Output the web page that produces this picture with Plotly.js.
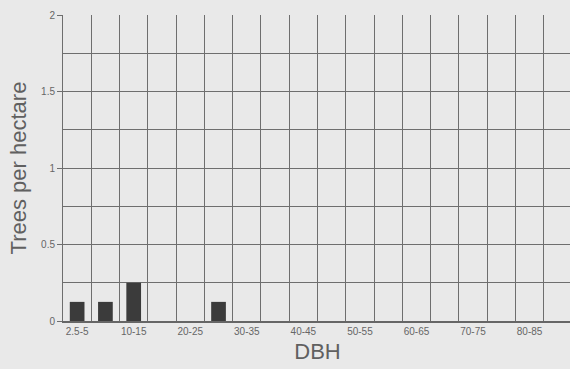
<!DOCTYPE html>
<html>
<head>
<meta charset="utf-8">
<script src="https://cdn.plot.ly/plotly-3.0.1.min.js"></script>
<style>
html,body{margin:0;padding:0;overflow:hidden;background:#e9e9e9;}
#chart{width:572px;height:369px;}
</style>
</head>
<body>
<div id="chart"></div>
<script>
// DBH classes (cm)
var categories = ["2.5-5","5-10","10-15","15-20","20-25","25-30","30-35","35-40","40-45","45-50","50-55","55-60","60-65","65-70","70-75","75-80","80-85","85-90"];
// Trees per hectare
var treesPerHectare = [0.125,0.125,0.25,0,0,0.125,0,0,0,0,0,0,0,0,0,0,0,0];
// Only every other class is labelled on the axis
var tickLabels = ["2.5-5","","10-15","","20-25","","30-35","","40-45","","50-55","","60-65","","70-75","","80-85",""];
var yTickVals = [0,0.5,1,1.5,2];
var yTickText = ["0","0.5","1","1.5","2"];

var gridCol = "#6e6e6e";
var trace = {
  type: "bar",
  x: categories,
  y: treesPerHectare,
  width: 0.52,
  marker: {color: "#3b3b3b", line: {width: 0}},
  hoverinfo: "x+y"
};

var layout = {
  width: 572,
  height: 369,
  margin: {l: 63, r: 0, t: 15, b: 48, pad: 0},
  paper_bgcolor: "#e9e9e9",
  plot_bgcolor: "#e9e9e9",
  font: {family: "Liberation Sans, Arial, sans-serif", color: "#5a5a5a"},
  showlegend: false,
  bargap: 0.48,
  xaxis: {
    type: "category",
    tickvals: categories,
    ticktext: tickLabels,
    tickson: "boundaries",
    tickangle: 0,
    ticks: "outside",
    ticklen: 5,
    tickcolor: "rgba(0,0,0,0)",
    tickfont: {size: 10, color: "#666"},
    showgrid: true,
    gridcolor: gridCol,
    gridwidth: 1,
    showline: true,
    linecolor: "#666",
    linewidth: 1.5,
    zeroline: false,
    range: [-0.5, 17.5],
    title: {text: "DBH", font: {size: 22, color: "#606060"}, standoff: 8},
    automargin: false
  },
  yaxis: {
    range: [0, 2],
    tickvals: yTickVals,
    ticktext: yTickText,
    ticks: "outside",
    ticklen: 5,
    tickcolor: gridCol,
    tickwidth: 1,
    tickfont: {size: 10, color: "#666"},
    showgrid: true,
    gridcolor: gridCol,
    gridwidth: 1,
    minor: {dtick: 0.25, showgrid: true, gridcolor: gridCol, gridwidth: 1},
    showline: true,
    linecolor: gridCol,
    linewidth: 1,
    zeroline: false,
    title: {text: "Trees per hectare", font: {size: 22, color: "#606060"}, standoff: 8},
    automargin: false
  }
};

Plotly.newPlot("chart", [trace], layout, {displayModeBar: false, staticPlot: true});
</script>
</body>
</html>
